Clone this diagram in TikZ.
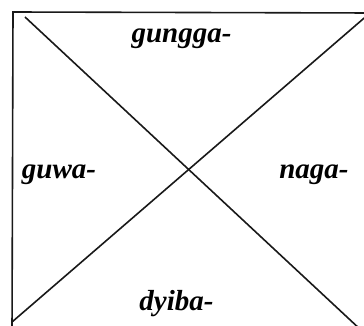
\documentclass[tikz,border=0pt]{standalone}
\usepackage{fontspec}
\setmainfont{Liberation Serif}
\begin{document}
\begin{tikzpicture}[x=1pt,y=-1pt,
  edge/.style={line width=1.6pt, draw=black!90},
  lab/.style={anchor=base, inner sep=0pt, font=\fontsize{29}{32}\selectfont\bfseries\itshape}]
\useasboundingbox (0,0) rectangle (364,326);
\fill[white] (0,0) rectangle (364,326);
\clip (0,0) rectangle (364,326);
\coordinate (tl) at (13,12);
\coordinate (trx) at (372,13);
\coordinate (blx) at (12,334);
\coordinate (brx) at (372,334);
\coordinate (d1a) at (25,17);
\coordinate (d1b) at (362,331);
\coordinate (d2a) at (12,322);
\coordinate (d2b) at (370,13);
\draw[edge] (trx) -- (tl) -- (blx);
\draw[edge] (d1a) -- (d1b);
\draw[edge] (d2a) -- (d2b);
\node[lab] (top) at (181.5,43) {gungga-};
\node[lab] (left) at (59,178) {guwa-};
\node[lab] (right) at (314,178) {naga-};
\node[lab] (bottom) at (176.5,310) {dyiba-};
\end{tikzpicture}
\end{document}
